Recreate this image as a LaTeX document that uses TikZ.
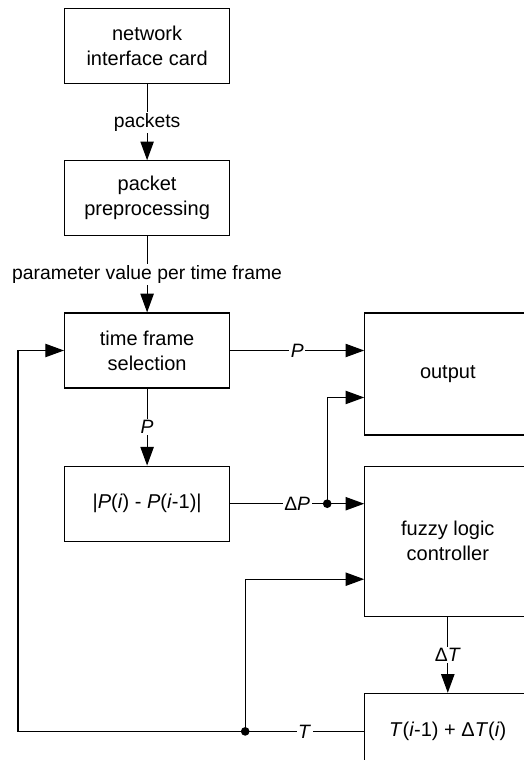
\documentclass[tikz,border=0pt]{standalone}
\usepackage{fontspec}
\setmainfont{Liberation Sans}
\usetikzlibrary{arrows.meta, positioning, calc}

\begin{document}
\begin{tikzpicture}[
    node distance=57pt,
    block/.style={draw, line width=0.9pt, minimum width=123.75pt, minimum height=56.25pt,
                  inner sep=0pt, align=center, font=\fontsize{15}{18.75}\selectfont},
    wide/.style={block, minimum width=124.5pt},
    tag/.style={fill=white, inner sep=1.2pt, font=\fontsize{14.5}{17}\selectfont},
    arrow/.style={-{Triangle[length=14pt, width=10pt]}, line width=0.9pt},
    joint/.style={circle, fill, inner sep=0pt, minimum size=6.5pt}
]
    \clip (0,0) rectangle (393pt,-570pt);

    \node[block, anchor=north west] (nic) at (48pt,-6pt) {network\\interface card};
    \node[block, below=of nic] (prep) {packet\\preprocessing};
    \node[block, below=of prep] (select) {time frame\\selection};
    \node[block, below=57.75pt of select] (diff) {|\textit{P}(\textit{i}) - \textit{P}(\textit{i}-1)|};
    \node[wide, minimum height=91.5pt, right=100.5pt of select.north east, anchor=north west] (output) {output};
    \node[wide, minimum height=112.5pt, right=100.5pt of diff.north east, anchor=north west] (flc) {fuzzy logic\\controller};
    \node[wide, minimum height=57pt, below=of flc] (update) {\textit{T}(\textit{i}-1) + Δ\textit{T}(\textit{i})};

    \coordinate (pdot) at ($(diff.east -| flc.west)+(-27.75pt,0)$);
    \coordinate (tdot) at ($(update.west)+(-89.25pt,0)$);
    \coordinate (back) at (13.5pt,0);

    \draw[arrow] (nic) -- node[tag] {packets} (prep);
    \draw[arrow] (prep) -- node[tag] {parameter value per time frame} (select);
    \draw[arrow] (select.east) -- node[tag] {\textit{P}} (select.east -| output.west);
    \draw[arrow] (select) -- node[tag] {\textit{P}} (diff);
    \draw[arrow] (diff.east) -- node[tag] {Δ\textit{P}} (diff.east -| flc.west);
    \draw[arrow] (pdot) |- ($(output.west)+(0,-17.6pt)$);
    \draw[arrow] (flc) -- node[tag] {Δ\textit{T}} (update);
    \draw[arrow] (update.west) -- node[tag] {\textit{T}} (tdot) -- (tdot -| back) |- (select.west);
    \draw[arrow] (tdot) |- ($(flc.west)+(0,-28.5pt)$);

    \node[joint] (pjoint) at (pdot) {};
    \node[joint] (tjoint) at (tdot) {};
\end{tikzpicture}
\end{document}
